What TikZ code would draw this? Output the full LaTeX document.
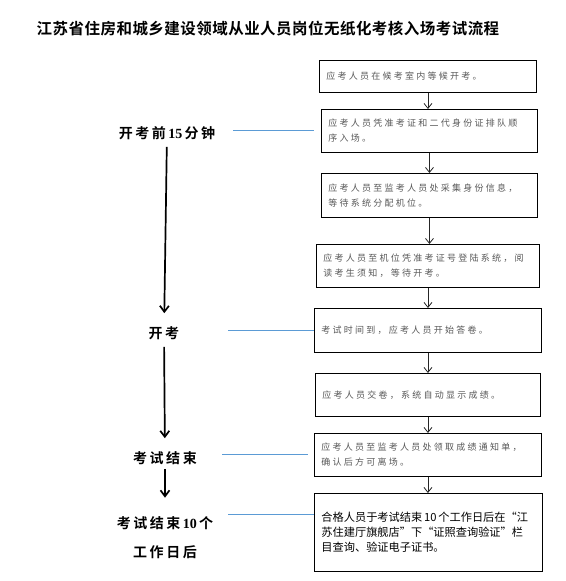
\documentclass[tikz,border=0pt]{standalone}
\usepackage{fontspec}
\setmainfont{Liberation Serif}
\newfontfamily\titlefont[LetterSpace=3]{Noto Sans CJK SC Bold}
\newfontfamily\stagefont[LetterSpace=18]{Noto Sans CJK SC Bold}
\newfontfamily\boxfont[LetterSpace=25]{Noto Sans CJK SC}
\newfontfamily\notefont{Noto Sans CJK SC}
\usepackage{tikz}
\usetikzlibrary{arrows.meta}
\definecolor{lineblue}{RGB}{91,155,213}

\begin{document}
\begin{tikzpicture}[x=1pt,y=-1pt]
  % some styles
  \tikzset{
    stepbox/.style={
      rectangle,
      draw=black,
      line width=0.9pt,
      inner xsep=7pt,
      inner ysep=0pt,
      anchor=north west,
      align=left,
      text=black!65,
      font=\boxfont\fontsize{9}{15}\selectfont
    }
  }
  \tikzset{
    notebox/.style={
      stepbox,
      text=black,
      font=\notefont\fontsize{11.2}{15}\selectfont
    }
  }
  \tikzset{stage/.style={inner sep=2pt,align=center,font=\stagefont\fontsize{14}{29}\selectfont}}
  \tikzset{flow/.style={draw=black!85,line width=0.8pt,-{Straight Barb[length=5pt,width=8pt]}}}
  \tikzset{phase/.style={draw=black,line width=1.7pt,-{Straight Barb[length=6pt,width=9pt]}}}
  \tikzset{link/.style={draw=lineblue,line width=0.9pt}}

\fill[white] (0,0) rectangle (565,581);

\node[font=\titlefont\fontsize{15.5}{16}\selectfont] (title) at (268,29)
  {江苏省住房和城乡建设领域从业人员岗位无纸化考核入场考试流程};

% steps on the right
\foreach \n/\xa/\ya/\xb/\yb/\t in {
  1/319/60/536/92/{应考人员在候考室内等候开考。},
  2/321/109/537/152/{应考人员凭准考证和二代身份证排队顺\\序入场。},
  3/321/173/537/217/{应考人员至监考人员处采集身份信息，\\等待系统分配机位。},
  4/316/244/539/287/{应考人员至机位凭准考证号登陆系统，阅\\读考生须知，等待开考。},
  5/314/308/541/352/{考试时间到，应考人员开始答卷。},
  6/315/373/540/416/{应考人员交卷，系统自动显示成绩。},
  7/314/433/541/476/{应考人员至监考人员处领取成绩通知单，\\确认后方可离场。}} {
    \pgfmathsetmacro{\w}{\xb-\xa-14}
    \pgfmathsetmacro{\h}{\yb-\ya}
    \node[stepbox, text width=\w pt, minimum height=\h pt] (b\n) at (\xa,\ya) {\t};
  }
\node[notebox, text width=214pt, minimum height=78pt] (b8) at (314,493)
  {\mbox{合格人员于考试结束\,10\,个工作日后在“江}\\苏住建厅旗舰店”下“证照查询验证”栏\\目查询、验证电子证书。};

\foreach \a/\b in {1/2,2/3,3/4,4/5,5/6,6/7,7/8}
  \draw[flow] (b\a.south) -- (b\a.south |- b\b.north);

% stages on the left
\node[stage] (t1) at (167,133) {开考前\,{\rmfamily\bfseries 15}\,分钟};
\node[stage] (t2) at (164,333) {开考};
\node[stage] (t3) at (165,458) {考试结束};
\node[stage] (t4) at (165,538) {考试结束\,{\rmfamily\bfseries 10}\,个\\工作日后};

\draw[phase, shorten <=5pt, shorten >=11pt] (t1) -- (t2);
\draw[phase, shorten <=5pt, shorten >=11pt] (t2) -- (t3);
\draw[phase, shorten <=2pt, shorten >=17pt] (t3) -- (t4);

\foreach \s/\b/\xs/\ys/\g in {1/2/233/130.5/7, 2/5/228/330/0, 3/7/222/454/6, 4/8/228/514/0} {
  \coordinate (l\s) at (\xs,\ys);
  \draw[link, shorten >=\g pt] (l\s) -- (l\s -| b\b.west);
}
\end{tikzpicture}
\end{document}
